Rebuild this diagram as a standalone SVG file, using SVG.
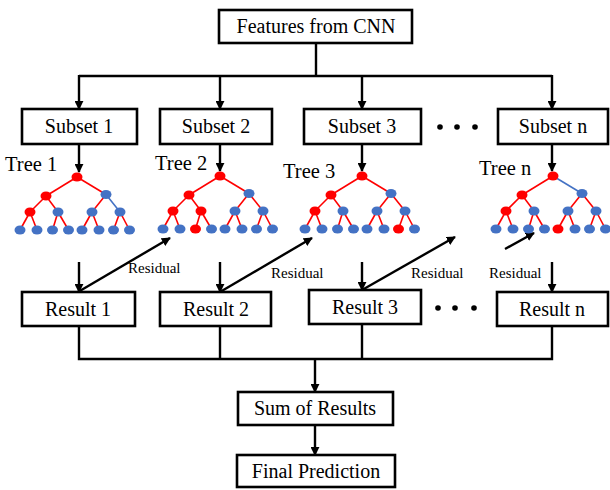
<svg xmlns="http://www.w3.org/2000/svg" width="610" height="490" viewBox="0 0 610 490">
  <style>
    .box { fill: #ffffff; stroke: #000000; stroke-width: 2.6; }
    .lbl { font-family: "Liberation Serif", "Times New Roman", serif; font-size: 20px; fill: #000000; text-anchor: middle; }
    .tree-lbl { font-family: "Liberation Serif", "Times New Roman", serif; font-size: 20.5px; fill: #000000; }
    .res-lbl { font-family: "Liberation Serif", "Times New Roman", serif; font-size: 15px; fill: #000000; }
    .conn { fill: none; stroke: #000000; stroke-width: 2.4; }
    .arr { marker-end: url(#head); }
    .er { stroke: #FF0000; stroke-width: 1.6; }
    .eb { stroke: #4472C4; stroke-width: 1.6; }
    .nr { fill: #FF0000; }
    .nb { fill: #4472C4; }
    .dot { fill: #000000; }
  </style>
  <defs>
    <marker id="head" viewBox="0 0 10 10" refX="9" refY="5" markerWidth="9" markerHeight="9" markerUnits="userSpaceOnUse" orient="auto">
      <path d="M0,0 L10,5 L0,10 z" fill="#000000"/>
    </marker>
  </defs>

  <rect width="610" height="490" fill="#ffffff"/>

  <!-- connectors -->
  <g id="connectors">
    <!-- features to subsets -->
    <polyline class="conn" points="316,43 316,76"/>
    <polyline class="conn" points="79,76 552,76"/>
    <line class="conn arr" x1="79" y1="75" x2="79" y2="109"/>
    <line class="conn arr" x1="220" y1="75" x2="220" y2="109"/>
    <line class="conn arr" x1="362" y1="75" x2="362" y2="109"/>
    <line class="conn arr" x1="552" y1="75" x2="552" y2="109"/>
    <!-- subsets to trees -->
    <line class="conn arr" x1="79" y1="144" x2="79" y2="172"/>
    <line class="conn arr" x1="220" y1="144" x2="220" y2="171"/>
    <line class="conn arr" x1="362" y1="144" x2="362" y2="171"/>
    <line class="conn arr" x1="552" y1="144" x2="552" y2="171"/>
    <!-- trees to results -->
    <line class="conn arr" x1="79" y1="262" x2="79" y2="292"/>
    <line class="conn arr" x1="220" y1="262" x2="220" y2="292"/>
    <line class="conn arr" x1="362" y1="262" x2="362" y2="290"/>
    <line class="conn arr" x1="552" y1="262" x2="552" y2="292"/>
    <!-- residual arrows -->
    <line class="conn arr" x1="78" y1="292" x2="170" y2="238"/>
    <line class="conn arr" x1="220" y1="292" x2="312" y2="238"/>
    <line class="conn arr" x1="362" y1="290" x2="455" y2="237"/>
    <line class="conn arr" x1="505" y1="249" x2="534" y2="233"/>
    <!-- results to sum -->
    <polyline class="conn" points="79,326 79,359 552,359 552,326"/>
    <line class="conn" x1="220" y1="326" x2="220" y2="359"/>
    <line class="conn" x1="362" y1="324" x2="362" y2="359"/>
    <line class="conn arr" x1="315" y1="358" x2="315" y2="392"/>
    <line class="conn arr" x1="315" y1="425" x2="315" y2="455"/>
  </g>

  <g id="features">
    <rect class="box" x="219" y="10" width="193" height="33"/>
    <text class="lbl" x="316" y="33">Features from CNN</text>
  </g>

  <g id="subset1">
    <rect class="box" x="22" y="109" width="115" height="35"/>
    <text class="lbl" x="79" y="133">Subset 1</text>
  </g>
  <g id="subset2">
    <rect class="box" x="160" y="109" width="112" height="35"/>
    <text class="lbl" x="216" y="133">Subset 2</text>
  </g>
  <g id="subset3">
    <rect class="box" x="304" y="109" width="117" height="35"/>
    <text class="lbl" x="362" y="133">Subset 3</text>
  </g>
  <g id="subsetn">
    <rect class="box" x="498" y="109" width="110" height="35"/>
    <text class="lbl" x="553" y="133">Subset n</text>
  </g>
  <g id="dots-top">
    <circle class="dot" cx="440" cy="127" r="2.8"/>
    <circle class="dot" cx="457" cy="127" r="2.8"/>
    <circle class="dot" cx="475" cy="127" r="2.8"/>
  </g>

  <!-- tree 1 -->
  <g id="tree1">
    <text class="tree-lbl" x="5" y="171">Tree 1</text>
    <g transform="translate(77,177)">
      <line class="er" x1="0" y1="0" x2="-31" y2="19"/>
      <line class="er" x1="0" y1="0" x2="29" y2="17.5"/>
      <line class="er" x1="-31" y1="19" x2="-47" y2="35"/>
      <line class="er" x1="-31" y1="19" x2="-19" y2="35"/>
      <line class="er" x1="29" y1="17.5" x2="15" y2="35"/>
      <line class="eb" x1="29" y1="17.5" x2="43" y2="35"/>
      <line class="er" x1="-47" y1="35" x2="-57" y2="53"/>
      <line class="er" x1="-47" y1="35" x2="-40" y2="53"/>
      <line class="er" x1="-19" y1="35" x2="-24.5" y2="53"/>
      <line class="er" x1="-19" y1="35" x2="-8.5" y2="53"/>
      <line class="er" x1="15" y1="35" x2="5" y2="53"/>
      <line class="er" x1="15" y1="35" x2="22" y2="53"/>
      <line class="er" x1="43" y1="35" x2="36.5" y2="53"/>
      <line class="er" x1="43" y1="35" x2="52.5" y2="53"/>
      <ellipse class="nr" cx="0" cy="0" rx="5.5" ry="4.5"/>
      <ellipse class="nr" cx="-31" cy="19" rx="5.5" ry="4.5"/>
      <ellipse class="nb" cx="29" cy="17.5" rx="5.5" ry="4.5"/>
      <ellipse class="nr" cx="-47" cy="35" rx="5.5" ry="4.5"/>
      <ellipse class="nb" cx="-19" cy="35" rx="5.5" ry="4.5"/>
      <ellipse class="nb" cx="15" cy="35" rx="5.5" ry="4.5"/>
      <ellipse class="nb" cx="43" cy="35" rx="5.5" ry="4.5"/>
      <ellipse class="nb" cx="-57" cy="53" rx="5.5" ry="4.5"/>
      <ellipse class="nb" cx="-40" cy="53" rx="5.5" ry="4.5"/>
      <ellipse class="nb" cx="-24.5" cy="53" rx="5.5" ry="4.5"/>
      <ellipse class="nb" cx="-8.5" cy="53" rx="5.5" ry="4.5"/>
      <ellipse class="nb" cx="5" cy="53" rx="5.5" ry="4.5"/>
      <ellipse class="nb" cx="22" cy="53" rx="5.5" ry="4.5"/>
      <ellipse class="nb" cx="36.5" cy="53" rx="5.5" ry="4.5"/>
      <ellipse class="nb" cx="52.5" cy="53" rx="5.5" ry="4.5"/>
    </g>
  </g>

  <!-- tree 2 -->
  <g id="tree2">
    <text class="tree-lbl" x="155" y="170">Tree 2</text>
    <g transform="translate(220,176)">
      <line class="er" x1="0" y1="0" x2="-31" y2="19"/>
      <line class="er" x1="0" y1="0" x2="29" y2="17.5"/>
      <line class="er" x1="-31" y1="19" x2="-47" y2="35"/>
      <line class="er" x1="-31" y1="19" x2="-19" y2="35"/>
      <line class="er" x1="29" y1="17.5" x2="15" y2="35"/>
      <line class="er" x1="29" y1="17.5" x2="43" y2="35"/>
      <line class="er" x1="-47" y1="35" x2="-57" y2="53"/>
      <line class="er" x1="-47" y1="35" x2="-40" y2="53"/>
      <line class="er" x1="-19" y1="35" x2="-24.5" y2="53"/>
      <line class="er" x1="-19" y1="35" x2="-8.5" y2="53"/>
      <line class="er" x1="15" y1="35" x2="5" y2="53"/>
      <line class="er" x1="15" y1="35" x2="22" y2="53"/>
      <line class="er" x1="43" y1="35" x2="36.5" y2="53"/>
      <line class="er" x1="43" y1="35" x2="52.5" y2="53"/>
      <ellipse class="nr" cx="0" cy="0" rx="5.5" ry="4.5"/>
      <ellipse class="nr" cx="-31" cy="19" rx="5.5" ry="4.5"/>
      <ellipse class="nb" cx="29" cy="17.5" rx="5.5" ry="4.5"/>
      <ellipse class="nr" cx="-47" cy="35" rx="5.5" ry="4.5"/>
      <ellipse class="nr" cx="-19" cy="35" rx="5.5" ry="4.5"/>
      <ellipse class="nb" cx="15" cy="35" rx="5.5" ry="4.5"/>
      <ellipse class="nb" cx="43" cy="35" rx="5.5" ry="4.5"/>
      <ellipse class="nb" cx="-57" cy="53" rx="5.5" ry="4.5"/>
      <ellipse class="nb" cx="-40" cy="53" rx="5.5" ry="4.5"/>
      <ellipse class="nr" cx="-24.5" cy="53" rx="5.5" ry="4.5"/>
      <ellipse class="nb" cx="-8.5" cy="53" rx="5.5" ry="4.5"/>
      <ellipse class="nb" cx="5" cy="53" rx="5.5" ry="4.5"/>
      <ellipse class="nb" cx="22" cy="53" rx="5.5" ry="4.5"/>
      <ellipse class="nb" cx="36.5" cy="53" rx="5.5" ry="4.5"/>
      <ellipse class="nb" cx="52.5" cy="53" rx="5.5" ry="4.5"/>
    </g>
  </g>

  <!-- tree 3 -->
  <g id="tree3">
    <text class="tree-lbl" x="283" y="178">Tree 3</text>
    <g transform="translate(362,176)">
      <line class="er" x1="0" y1="0" x2="-31" y2="19"/>
      <line class="er" x1="0" y1="0" x2="29" y2="17.5"/>
      <line class="er" x1="-31" y1="19" x2="-47" y2="35"/>
      <line class="er" x1="-31" y1="19" x2="-19" y2="35"/>
      <line class="er" x1="29" y1="17.5" x2="15" y2="35"/>
      <line class="er" x1="29" y1="17.5" x2="43" y2="35"/>
      <line class="er" x1="-47" y1="35" x2="-57" y2="53"/>
      <line class="er" x1="-47" y1="35" x2="-40" y2="53"/>
      <line class="er" x1="-19" y1="35" x2="-24.5" y2="53"/>
      <line class="er" x1="-19" y1="35" x2="-8.5" y2="53"/>
      <line class="er" x1="15" y1="35" x2="5" y2="53"/>
      <line class="er" x1="15" y1="35" x2="22" y2="53"/>
      <line class="er" x1="43" y1="35" x2="36.5" y2="53"/>
      <line class="er" x1="43" y1="35" x2="52.5" y2="53"/>
      <ellipse class="nr" cx="0" cy="0" rx="5.5" ry="4.5"/>
      <ellipse class="nr" cx="-31" cy="19" rx="5.5" ry="4.5"/>
      <ellipse class="nb" cx="29" cy="17.5" rx="5.5" ry="4.5"/>
      <ellipse class="nr" cx="-47" cy="35" rx="5.5" ry="4.5"/>
      <ellipse class="nb" cx="-19" cy="35" rx="5.5" ry="4.5"/>
      <ellipse class="nb" cx="15" cy="35" rx="5.5" ry="4.5"/>
      <ellipse class="nb" cx="43" cy="35" rx="5.5" ry="4.5"/>
      <ellipse class="nb" cx="-57" cy="53" rx="5.5" ry="4.5"/>
      <ellipse class="nb" cx="-40" cy="53" rx="5.5" ry="4.5"/>
      <ellipse class="nb" cx="-24.5" cy="53" rx="5.5" ry="4.5"/>
      <ellipse class="nb" cx="-8.5" cy="53" rx="5.5" ry="4.5"/>
      <ellipse class="nb" cx="5" cy="53" rx="5.5" ry="4.5"/>
      <ellipse class="nb" cx="22" cy="53" rx="5.5" ry="4.5"/>
      <ellipse class="nr" cx="36.5" cy="53" rx="5.5" ry="4.5"/>
      <ellipse class="nb" cx="52.5" cy="53" rx="5.5" ry="4.5"/>
    </g>
  </g>

  <!-- tree n -->
  <g id="treen">
    <text class="tree-lbl" x="479" y="175">Tree n</text>
    <g transform="translate(553,176)">
      <line class="er" x1="0" y1="0" x2="-31" y2="19"/>
      <line class="eb" x1="0" y1="0" x2="29" y2="17.5"/>
      <line class="er" x1="-31" y1="19" x2="-47" y2="35"/>
      <line class="er" x1="-31" y1="19" x2="-19" y2="35"/>
      <line class="er" x1="29" y1="17.5" x2="15" y2="35"/>
      <line class="er" x1="29" y1="17.5" x2="43" y2="35"/>
      <line class="er" x1="-47" y1="35" x2="-57" y2="53"/>
      <line class="er" x1="-47" y1="35" x2="-40" y2="53"/>
      <line class="er" x1="-19" y1="35" x2="-24.5" y2="53"/>
      <line class="er" x1="-19" y1="35" x2="-8.5" y2="53"/>
      <line class="er" x1="15" y1="35" x2="5" y2="53"/>
      <line class="er" x1="15" y1="35" x2="22" y2="53"/>
      <line class="er" x1="43" y1="35" x2="36.5" y2="53"/>
      <line class="er" x1="43" y1="35" x2="52.5" y2="53"/>
      <ellipse class="nr" cx="0" cy="0" rx="5.5" ry="4.5"/>
      <ellipse class="nr" cx="-31" cy="19" rx="5.5" ry="4.5"/>
      <ellipse class="nb" cx="29" cy="17.5" rx="5.5" ry="4.5"/>
      <ellipse class="nr" cx="-47" cy="35" rx="5.5" ry="4.5"/>
      <ellipse class="nb" cx="-19" cy="35" rx="5.5" ry="4.5"/>
      <ellipse class="nb" cx="15" cy="35" rx="5.5" ry="4.5"/>
      <ellipse class="nb" cx="43" cy="35" rx="5.5" ry="4.5"/>
      <ellipse class="nb" cx="-57" cy="53" rx="5.5" ry="4.5"/>
      <ellipse class="nb" cx="-40" cy="53" rx="5.5" ry="4.5"/>
      <ellipse class="nb" cx="-24.5" cy="53" rx="5.5" ry="4.5"/>
      <ellipse class="nb" cx="-8.5" cy="53" rx="5.5" ry="4.5"/>
      <ellipse class="nr" cx="5" cy="53" rx="5.5" ry="4.5"/>
      <ellipse class="nb" cx="22" cy="53" rx="5.5" ry="4.5"/>
      <ellipse class="nb" cx="36.5" cy="53" rx="5.5" ry="4.5"/>
      <ellipse class="nb" cx="52.5" cy="53" rx="5.5" ry="4.5"/>
    </g>
  </g>

  <!-- residual labels -->
  <g id="residual-labels">
    <text class="res-lbl" x="128" y="273">Residual</text>
    <text class="res-lbl" x="271" y="278">Residual</text>
    <text class="res-lbl" x="411" y="278">Residual</text>
    <text class="res-lbl" x="489" y="278">Residual</text>
  </g>

  <g id="result1">
    <rect class="box" x="22" y="292" width="113" height="34"/>
    <text class="lbl" x="78" y="316">Result 1</text>
  </g>
  <g id="result2">
    <rect class="box" x="160" y="292" width="111" height="34"/>
    <text class="lbl" x="216" y="316">Result 2</text>
  </g>
  <g id="result3">
    <rect class="box" x="309" y="290" width="112" height="34"/>
    <text class="lbl" x="365" y="314">Result 3</text>
  </g>
  <g id="resultn">
    <rect class="box" x="497" y="292" width="111" height="34"/>
    <text class="lbl" x="552" y="316">Result n</text>
  </g>
  <g id="dots-bottom">
    <circle class="dot" cx="438" cy="308" r="2.8"/>
    <circle class="dot" cx="455" cy="308" r="2.8"/>
    <circle class="dot" cx="474" cy="308" r="2.8"/>
  </g>

  <g id="sum">
    <rect class="box" x="238" y="392" width="155" height="33"/>
    <text class="lbl" x="315" y="415">Sum of Results</text>
  </g>
  <g id="final">
    <rect class="box" x="237" y="455" width="158" height="32"/>
    <text class="lbl" x="316" y="478">Final Prediction</text>
  </g>
</svg>
